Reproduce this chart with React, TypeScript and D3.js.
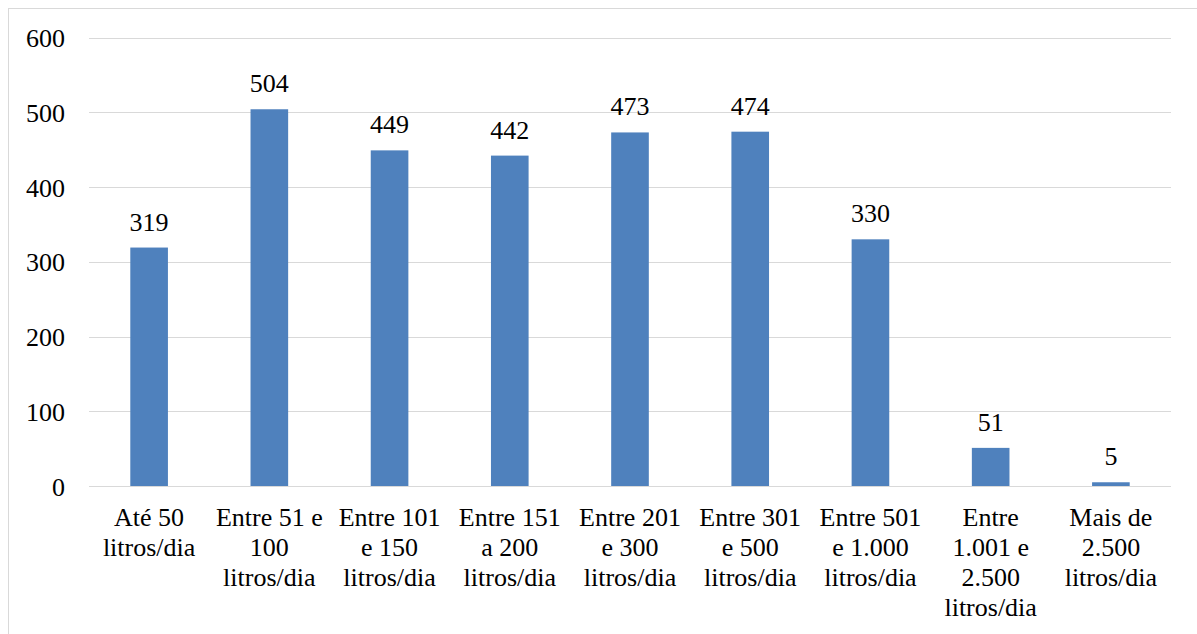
import React from "react";
import * as d3 from "d3";

// categories, split in the lines the chart shows
const categories: string[][] = [
  ["Até 50", "litros/dia"],
  ["Entre 51 e", "100", "litros/dia"],
  ["Entre 101", "e 150", "litros/dia"],
  ["Entre 151", "a 200", "litros/dia"],
  ["Entre 201", "e 300", "litros/dia"],
  ["Entre 301", "e 500", "litros/dia"],
  ["Entre 501", "e 1.000", "litros/dia"],
  ["Entre", "1.001 e", "2.500", "litros/dia"],
  ["Mais de", "2.500", "litros/dia"],
];
const values: number[] = [319, 504, 449, 442, 473, 474, 330, 51, 5];
const yTicks: number[] = [0, 100, 200, 300, 400, 500, 600];

const W = 1197;
const H = 634;
const plot = { left: 89, right: 1171, top: 37.5, bottom: 486 };
const font = '"Liberation Serif", Tinos, "Times New Roman", "DejaVu Serif", serif';
const textStyle = { fontFamily: font, fontSize: 26 };

const App = () => {
  const keys = categories.map((_, i) => String(i));
  const x = d3
    .scaleBand()
    .domain(keys)
    .range([plot.left, plot.right])
    .paddingInner(0.687)
    .paddingOuter(0.3435);
  const y = d3.scaleLinear().domain([0, 600]).range([plot.bottom, plot.top]);

  return (
    <div style={{ position: "fixed", left: 0, top: 0, width: W, height: H, background: "#fff" }}>
      <svg width={W} height={H} style={{ display: "block" }}>
        <rect x={8.5} y={8.5} width={W + 20} height={H + 20} fill="#fff" stroke="#d9d9d9" strokeWidth={1} />
        {yTicks.map((t) => (
          <g key={t}>
            <line
              x1={plot.left}
              x2={plot.right}
              y1={Math.round(y(t)) + 0.5}
              y2={Math.round(y(t)) + 0.5}
              stroke="#d9d9d9"
              strokeWidth={1.2}
            />
            <text x={65} y={y(t) + 9.5} textAnchor="end" style={textStyle} fill="#000">
              {t}
            </text>
          </g>
        ))}
        {values.map((v, i) => {
          const bx = x(keys[i]) as number;
          const cx = bx + x.bandwidth() / 2;
          return (
            <g key={i}>
              <rect x={bx} y={y(v)} width={x.bandwidth()} height={y(0) - y(v)} fill="#4f81bd" />
              <text x={cx} y={y(v) - 17} textAnchor="middle" style={textStyle} fill="#000">
                {v}
              </text>
              <text x={cx} y={526} textAnchor="middle" style={textStyle} fill="#000">
                {categories[i].map((line, j) => (
                  <tspan key={j} x={cx} dy={j === 0 ? 0 : 30}>
                    {line}
                  </tspan>
                ))}
              </text>
            </g>
          );
        })}
      </svg>
    </div>
  );
};

export default App;
